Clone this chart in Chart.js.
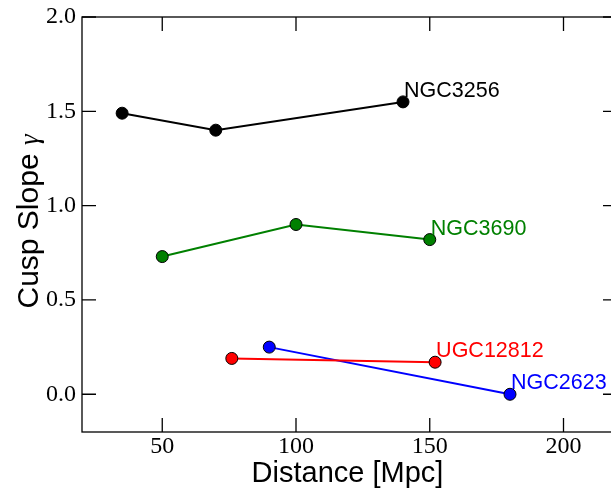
<!DOCTYPE html>
<html>
<head>
<meta charset="utf-8">
<script src="https://cdn.jsdelivr.net/npm/chart.js@4/dist/chart.umd.min.js"></script>
<style>
html, body { margin: 0; padding: 0; overflow: hidden; background: #fff; width: 611px; height: 489px; }
#wrap { position: absolute; left: 0; top: 0; width: 626px; height: 489px; }
</style>
</head>
<body>
<div id="wrap"><canvas id="c" width="626" height="489"></canvas></div>
<script>
// ---- data ----
const galaxyNames = ["NGC3256", "NGC3690", "UGC12812", "NGC2623"];
const seriesColors = ["#000000", "#008000", "#ff0000", "#0000ff"];
const ngc3256Distance = [35, 70, 140];
const ngc3256Slope = [1.49, 1.40, 1.55];
const ngc3690Distance = [50, 100, 150];
const ngc3690Slope = [0.73, 0.90, 0.82];
const ugc12812Distance = [76, 152];
const ugc12812Slope = [0.19, 0.17];
const ngc2623Distance = [90, 180];
const ngc2623Slope = [0.25, 0.00];
const xTickValues = [50, 100, 150, 200];
const yTickValues = [0.0, 0.5, 1.0, 1.5, 2.0];
const xRange = [20, 220];
const yRange = [-0.2, 2.0];
const xTitle = "Distance [Mpc]";
const yTitleText = "Cusp Slope ";
const yTitleSymbol = "γ";

const allX = [ngc3256Distance, ngc3690Distance, ugc12812Distance, ngc2623Distance];
const allY = [ngc3256Slope, ngc3690Slope, ugc12812Slope, ngc2623Slope];

const datasets = galaxyNames.map((name, i) => ({
  label: name,
  data: allX[i].map((x, j) => ({ x: x, y: allY[i][j] })),
  showLine: true,
  borderColor: seriesColors[i],
  backgroundColor: seriesColors[i],
  borderWidth: 2,
  pointRadius: 6,
  pointHoverRadius: 6,
  pointBorderColor: "#000000",
  pointBorderWidth: 1,
  pointBackgroundColor: seriesColors[i],
  tension: 0
}));

const TICK_LEN = 14;
const SANS = "'Liberation Sans', Arial, sans-serif";
const SERIF = "'Liberation Serif', 'DejaVu Serif', serif";

const framePlugin = {
  id: "frame",
  afterDraw(chart) {
    const ctx = chart.ctx;
    const a = chart.chartArea;
    const xs = chart.scales.x, ys = chart.scales.y;
    ctx.save();
    ctx.strokeStyle = "#000";
    ctx.lineWidth = 1.3;
    ctx.strokeRect(a.left, a.top, a.right - a.left, a.bottom - a.top);
    ctx.beginPath();
    xTickValues.forEach(v => {
      const px = xs.getPixelForValue(v);
      ctx.moveTo(px, a.bottom); ctx.lineTo(px, a.bottom - TICK_LEN);
      ctx.moveTo(px, a.top); ctx.lineTo(px, a.top + TICK_LEN);
    });
    yTickValues.forEach(v => {
      const py = ys.getPixelForValue(v);
      ctx.moveTo(a.left, py); ctx.lineTo(a.left + TICK_LEN, py);
      ctx.moveTo(a.right, py); ctx.lineTo(a.right - TICK_LEN, py);
    });
    ctx.stroke();

    // axis titles
    ctx.fillStyle = "#000";
    ctx.font = "29px " + SANS;
    ctx.textAlign = "center";
    ctx.textBaseline = "alphabetic";
    ctx.fillText(xTitle, (a.left + a.right) / 2 - 2, 482);

    ctx.save();
    const yc = (a.top + a.bottom) / 2;
    ctx.translate(38, yc - 3);
    ctx.rotate(-Math.PI / 2);
    ctx.font = "30px " + SANS;
    const w1 = ctx.measureText(yTitleText).width;
    ctx.font = "italic 27px " + SERIF;
    const w2 = ctx.measureText(yTitleSymbol).width;
    const start = -(w1 + w2) / 2;
    ctx.textAlign = "left";
    ctx.font = "30px " + SANS;
    ctx.fillText(yTitleText, start, 0);
    ctx.font = "italic 27px " + SERIF;
    ctx.fillText(yTitleSymbol, start + w1, 0);
    ctx.restore();
    ctx.restore();
  },
  afterDatasetsDraw(chart) {
    const ctx = chart.ctx;
    ctx.save();
    ctx.font = "21.5px " + SANS;
    ctx.textAlign = "left";
    ctx.textBaseline = "alphabetic";
    chart.data.datasets.forEach((ds, i) => {
      const meta = chart.getDatasetMeta(i);
      const last = meta.data[meta.data.length - 1];
      ctx.fillStyle = seriesColors[i];
      ctx.fillText(galaxyNames[i], last.x + 1, last.y - 5);
    });
    ctx.restore();
  }
};

new Chart(document.getElementById("c"), {
  type: "scatter",
  data: { datasets: datasets },
  options: {
    responsive: false,
    animation: false,
    events: [],
    layout: { padding: { top: 17, right: 9, left: 0, bottom: 0 } },
    plugins: { legend: { display: false }, tooltip: { enabled: false } },
    scales: {
      x: {
        type: "linear",
        min: xRange[0], max: xRange[1],
        afterFit(s) { s.height = 57; s.paddingLeft = 0; s.paddingRight = 0; },
        afterBuildTicks(s) { s.ticks = xTickValues.map(v => ({ value: v })); },
        grid: { display: false, drawTicks: false },
        border: { display: false },
        ticks: {
          padding: 0,
          color: "#000",
          font: { family: SERIF, size: 24 },
          callback: v => String(v),
          maxRotation: 0
        }
      },
      y: {
        type: "linear",
        min: yRange[0], max: yRange[1],
        afterFit(s) { s.width = 82; s.paddingTop = 0; s.paddingBottom = 0; },
        afterBuildTicks(s) { s.ticks = yTickValues.map(v => ({ value: v })); },
        grid: { display: false, drawTicks: false },
        border: { display: false },
        ticks: {
          padding: 6,
          color: "#000",
          font: { family: SERIF, size: 24 },
          callback: v => Number(v).toFixed(1)
        }
      }
    }
  },
  plugins: [framePlugin]
});
</script>
</body>
</html>
